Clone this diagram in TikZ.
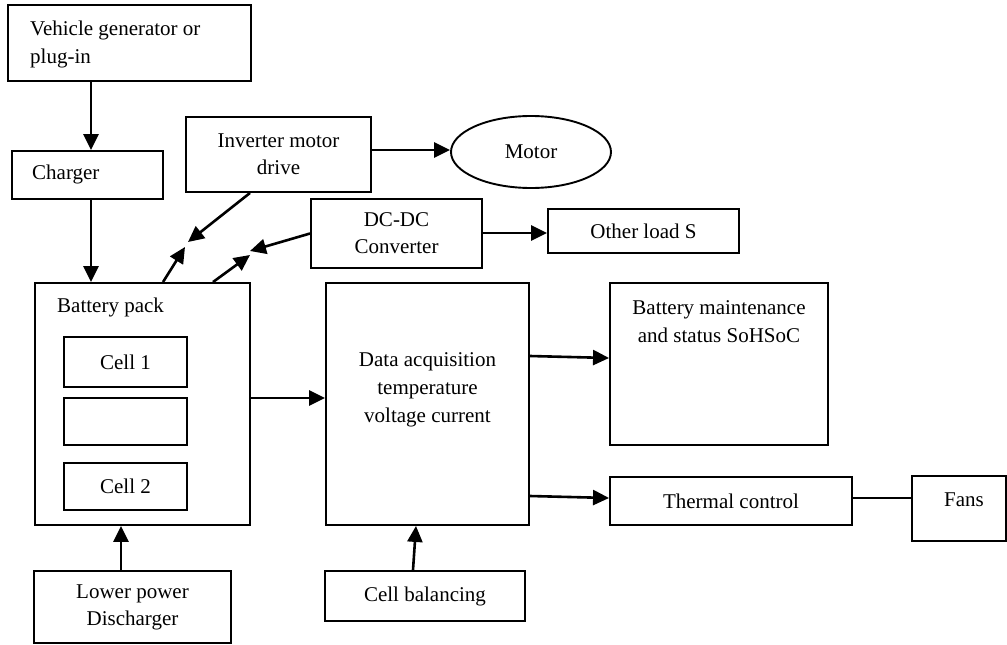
\documentclass[tikz,border=0pt]{standalone}
\usepackage{fontspec}
\setmainfont{Liberation Serif}
\usetikzlibrary{arrows.meta,shapes.geometric}
\begin{document}
\begin{tikzpicture}[x=1pt,y=-1pt,
  box/.style={draw, line width=1.9pt, inner sep=0pt, align=center, font=\fontsize{21}{27}\selectfont},
  txt/.style={inner sep=0pt, align=center, font=\fontsize{21}{28}\selectfont},
  ar/.style={line width=2.6pt, -{Triangle[length=16pt,width=15pt]}}]
\useasboundingbox (0,0) rectangle (1007,645);
% boxes
\node[box, minimum width=243, minimum height=76] (veh) at (129.5,43) {};
\node[txt, anchor=west, align=left] (vehtxt) at (30,44) {Vehicle generator or\\plug-in};
\node[box, minimum width=151, minimum height=48] (charger) at (87.5,175) {};
\node[txt, anchor=west] (chtxt) at (32,174) {Charger};
\node[box, minimum width=185, minimum height=75] (inv) at (278.5,154.5) {Inverter motor\\drive};
\node[box, ellipse, minimum width=160, minimum height=72] (motor) at (531,152) {Motor};
\node[box, minimum width=171, minimum height=69] (dcdc) at (396.5,233.5) {DC-DC\\Converter};
\node[box, minimum width=191, minimum height=44] (other) at (643.5,231) {Other load S};
\node[box, minimum width=215, minimum height=242] (batt) at (142.5,404) {};
\node[txt, anchor=west] (battlbl) at (57,307) {Battery pack};
\node[box, minimum width=123, minimum height=50] (cell1) at (125.5,362) {Cell 1};
\node[box, minimum width=123, minimum height=47] (cellm) at (125.5,421.5) {};
\node[box, minimum width=123, minimum height=47] (cell2) at (125.5,486.5) {Cell 2};
\node[box, minimum width=203, minimum height=242] (da) at (427.5,404) {};
\node[txt] (datxt) at (427.5,390) {Data acquisition\\temperature\\voltage current};
\node[box, minimum width=218, minimum height=162] (bm) at (719,364) {};
\node[txt] (bmtxt) at (719,321.5) {Battery maintenance\\and status SoHSoC};
\node[box, minimum width=242, minimum height=48] (thermal) at (731,501) {Thermal control};
\node[box, minimum width=94, minimum height=65] (fans) at (959,508.5) {};
\node[txt] (fanstxt) at (964,500) {Fans};
\node[box, minimum width=197, minimum height=72] (dis) at (132.5,607) {Lower power\\Discharger};
\node[box, minimum width=200, minimum height=50] (bal) at (425,596) {Cell balancing};
% arrow tips
\coordinate (t1) at (188,242);
\coordinate (t2) at (185,247);
\coordinate (t3) at (250,251);
\coordinate (t4) at (250,255);
% connectors
\draw[ar] ([xshift=3.5]charger.north |- veh.south) -- ([xshift=3.5]charger.north);
\draw[ar] ([xshift=3.5]charger.south) -- ([xshift=3.5]charger.south |- batt.north);
\draw[ar] (inv.east |- 0,150) -- (motor.west |- 0,150);
\draw[ar] (dcdc.east |- 0,233) -- (other.west |- 0,233);
\draw[ar] (inv.south -| 250,0) -- (t1);
\draw[ar] (batt.north -| 163,0) -- (t2);
\draw[ar] (dcdc.west) -- (t3);
\draw[ar] (batt.north -| 213,0) -- (t4);
\draw[ar] (batt.east |- 0,398) -- (da.west |- 0,398);
\draw[ar] (da.east |- 0,356) -- (bm.west |- 0,358);
\draw[ar] (da.east |- 0,496) -- (thermal.west |- 0,498);
\draw[line width=1.9pt] (thermal.east |- 0,498) -- (fans.west |- 0,498);
\draw[ar] (dis.north -| 121,0) -- (batt.south -| 121,0);
\draw[ar] (bal.north -| 413,0) -- (da.south -| 416,0);
\end{tikzpicture}
\end{document}
